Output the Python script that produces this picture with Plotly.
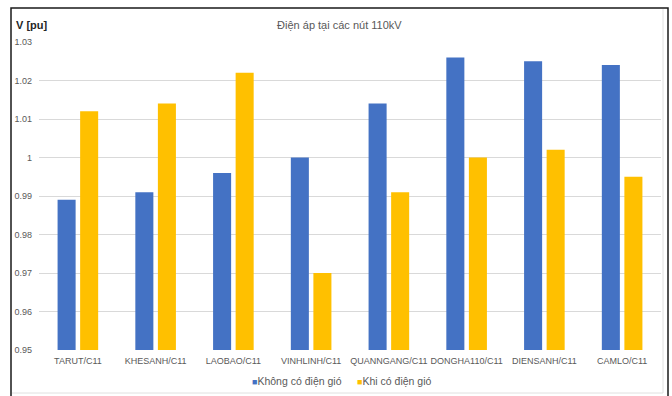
import plotly.graph_objects as go

# Node names and bus voltages (pu) for the 110 kV network
nodes = ["TARUT/C11", "KHESANH/C11", "LAOBAO/C11", "VINHLINH/C11",
         "QUANNGANG/C11", "DONGHA110/C11", "DIENSANH/C11", "CAMLO/C11"]
v_no_wind = [0.989, 0.991, 0.996, 1.000, 1.014, 1.026, 1.025, 1.024]
v_with_wind = [1.012, 1.014, 1.022, 0.970, 0.991, 1.000, 1.002, 0.995]
series_names = ["Không có điện gió", "Khi có điện gió"]
series_colors = ["#4472C4", "#FFC000"]
y_ticks = [0.95, 0.96, 0.97, 0.98, 0.99, 1.0, 1.01, 1.02, 1.03]
y_tick_text = ["0.95", "0.96", "0.97", "0.98", "0.99", "1", "1.01", "1.02", "1.03"]

FONT = "Liberation Sans Narrow, Arial Narrow, Liberation Sans, Arial, sans-serif"
GREY = "#595959"

W, H = 672, 396
L, R, T, B = 39, 11, 42, 46
pw, ph = W - L - R, H - T - B


def px_x(p):
    return (p - L) / pw


def px_y(p):
    return (H - B - p) / ph


fig = go.Figure()
for name, vals, col in zip(series_names, [v_no_wind, v_with_wind], series_colors):
    fig.add_trace(go.Bar(name=name, x=nodes, y=vals,
                         marker=dict(color=col, line=dict(width=0))))

fig.update_layout(
    width=W, height=H,
    margin=dict(l=L, r=R, t=T, b=B, autoexpand=False),
    paper_bgcolor="white", plot_bgcolor="white",
    barmode="group", bargap=0.42, bargroupgap=0.2,
    font=dict(family=FONT, size=10, color=GREY),
    title=dict(text="Điện áp tại các nút 110kV", x=0.505, xanchor="center",
               y=1 - 25 / H, yanchor="middle",
               font=dict(family=FONT, size=11, color=GREY)),
    xaxis=dict(showgrid=False, showline=False, ticks="", tickangle=0, automargin=False,
               ticklabelstandoff=4, tickfont=dict(size=9, color=GREY)),
    yaxis=dict(range=[0.95, 1.03], tickvals=y_ticks, ticktext=y_tick_text, automargin=False,
               showgrid=True, gridcolor="#d9d9d9", gridwidth=1, zeroline=False,
               showline=False, ticks="", ticklabelstandoff=6,
               tickfont=dict(size=9, color=GREY)),
    showlegend=False,
)

# Compact legend: small coloured square followed by the series name
legend_x = [250, 355]
for name, col, lx in zip(series_names, series_colors, legend_x):
    fig.add_annotation(text=f"<span style='color:{col};font-size:9px'>■</span>{name}",
                       xref="paper", yref="paper", x=px_x(lx), y=px_y(381),
                       xanchor="left", yanchor="middle", showarrow=False,
                       font=dict(family=FONT, size=10.5, color=GREY))

fig.add_annotation(text="<b>V [pu]</b>", xref="paper", yref="paper",
                   x=px_x(14), y=px_y(25), xanchor="left", yanchor="middle",
                   showarrow=False, font=dict(family=FONT, size=11, color="#262626"))

# Chart frame
fig.add_shape(type="line", xref="paper", yref="paper",
              x0=px_x(663), x1=px_x(663), y0=px_y(9), y1=px_y(393),
              line=dict(color="#e0e0e0", width=1))
fig.add_shape(type="line", xref="paper", yref="paper",
              x0=px_x(12), x1=px_x(663), y0=px_y(393), y1=px_y(393),
              line=dict(color="#e0e0e0", width=1))
fig.add_shape(type="rect", xref="paper", yref="paper",
              x0=px_x(11), x1=px_x(668), y0=px_y(8), y1=px_y(400),
              line=dict(color="#1a1a1a", width=1.5), fillcolor="rgba(0,0,0,0)", layer="above")

fig.write_html("out.html")
